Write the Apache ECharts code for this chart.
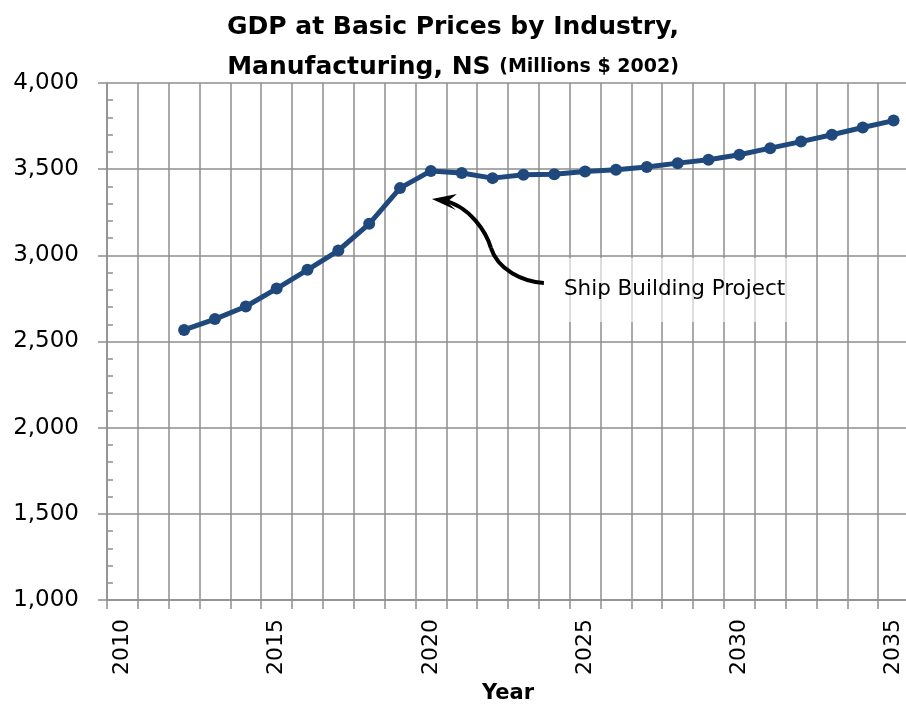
<!DOCTYPE html>
<html>
<head>
<meta charset="utf-8">
<script src="https://cdn.jsdelivr.net/npm/echarts@6/dist/echarts.min.js"></script>
<style>
html, body { margin: 0; padding: 0; background: #fff; }
#chart { width: 906px; height: 707px; }
</style>
</head>
<body>
<div id="chart"></div>
<script>
// categories (years) and values
const years = ['2010', '2011', '2012', '2013', '2014', '2015', '2016', '2017', '2018', '2019', '2020', '2021', '2022',
    '2023', '2024', '2025', '2026', '2027', '2028', '2029', '2030', '2031', '2032', '2033', '2034', '2035'];
const gdp = [null, null, 2567, 2630, 2703, 2807, 2916, 3028, 3183, 3390, 3490, 3478, 3448,
    3467, 3470, 3487, 3496, 3512, 3535, 3555, 3584, 3622, 3660, 3700, 3742, 3782];
const yMin = 1000;
const yMax = 4000;
const yStep = 500;
const noteYear = '2020';
const noteText = 'Ship Building Project';

const gridColor = '#8e8e8e';
const lineColor = '#1f497d';
const font = '"DejaVu Sans", sans-serif';

const chart = echarts.init(document.getElementById('chart'));

const options = {
    animation: false,
    backgroundColor: '#fff',
    title: {
        left: 'center',
        top: 2,
        text: 'GDP at Basic Prices by Industry,\n{a|Manufacturing, NS} {b|(Millions $ 2002)}',
        textStyle: {
            fontFamily: font,
            fontSize: 25,
            fontWeight: 'bold',
            color: '#000',
            lineHeight: 40,
            rich: {
                a: {fontFamily: font, fontSize: 25, fontWeight: 'bold', color: '#000', lineHeight: 40},
                b: {fontFamily: font, fontSize: 19, fontWeight: 'bold', color: '#000', lineHeight: 40},
            },
        },
    },
    grid: {
        left: 107,
        top: 83,
        width: 802,
        bottom: 107,
        outerBoundsMode: 'none',
    },
    xAxis: {
        type: 'category',
        data: years,
        boundaryGap: true,
        name: 'Year',
        nameLocation: 'middle',
        nameGap: 83,
        nameTextStyle: {fontFamily: font, fontSize: 21, fontWeight: 'bold', color: '#000'},
        axisLine: {lineStyle: {color: gridColor, width: 1.5}},
        axisTick: {show: true, interval: 0, length: 9, lineStyle: {color: gridColor, width: 1.5}},
        axisLabel: {
            interval: 4,
            rotate: 90,
            margin: 19,
            fontFamily: font,
            fontSize: 22,
            color: '#000',
        },
        splitLine: {show: true, interval: 0, lineStyle: {color: gridColor, width: 1.5}},
    },
    yAxis: [
        {
            type: 'value',
            min: yMin,
            max: yMax,
            interval: yStep,
            axisLine: {show: true, lineStyle: {color: gridColor, width: 1.5}},
            axisTick: {show: true, length: 9, lineStyle: {color: gridColor, width: 1.5}},
            axisLabel: {
                margin: 28,
                fontFamily: font,
                fontSize: 23,
                color: '#000',
                formatter: v => v.toLocaleString('en-US'),
            },
            splitLine: {show: true, lineStyle: {color: gridColor, width: 1.5}},
        },
        {
            // overlay axis, only to draw the inside minor ticks
            type: 'value',
            position: 'left',
            min: yMin,
            max: yMax,
            interval: yStep,
            axisLine: {show: false},
            axisTick: {show: false, inside: true},
            axisLabel: {show: false},
            splitLine: {show: false},
            minorTick: {show: true, splitNumber: 5, length: 6, lineStyle: {color: gridColor, width: 1.5}},
        },
    ],
    series: [
        {
            type: 'line',
            data: gdp,
            yAxisIndex: 0,
            symbol: 'circle',
            symbolSize: 12,
            itemStyle: {color: lineColor},
            lineStyle: {color: lineColor, width: 5},
            z: 5,
        },
    ],
};

chart.setOption(options);

// annotation, anchored on the 2020 point
const p = chart.convertToPixel({xAxisIndex: 0, yAxisIndex: 0}, [noteYear, gdp[years.indexOf(noteYear)]]);
const tx = p[0] + 1;
const ty = p[1] + 28;
chart.setOption({
    graphic: [
        {
            type: 'rect',
            shape: {x: tx + 132, y: ty + 59, width: 226, height: 64},
            style: {fill: 'rgba(255,255,255,0.6)'},
            z: 3,
        },
        {
            type: 'bezierCurve',
            shape: {
                x1: tx + 112, y1: ty + 84,
                cpx1: tx + 91, cpy1: ty + 83,
                cpx2: tx + 66, cpy2: ty + 71,
                x2: tx + 59, y2: ty + 49,
            },
            style: {fill: null, stroke: '#000', lineWidth: 4},
            z: 10,
        },
        {
            type: 'bezierCurve',
            shape: {
                x1: tx + 59, y1: ty + 49,
                cpx1: tx + 55, cpy1: ty + 35,
                cpx2: tx + 39, cpy2: ty + 7,
                x2: tx + 10, y2: ty + 1,
            },
            style: {fill: null, stroke: '#000', lineWidth: 4},
            z: 10,
        },
        {
            type: 'polygon',
            shape: {
                points: [[tx, ty], [tx + 25, ty - 5], [tx + 15, ty + 3], [tx + 24, ty + 11]],
            },
            style: {fill: '#000'},
            z: 10,
        },
        {
            type: 'text',
            x: tx + 132,
            y: ty + 91,
            style: {
                text: noteText,
                fontFamily: font,
                fontSize: 21.5,
                fill: '#000',
                verticalAlign: 'middle',
            },
            z: 10,
        },
    ],
});
</script>
</body>
</html>
